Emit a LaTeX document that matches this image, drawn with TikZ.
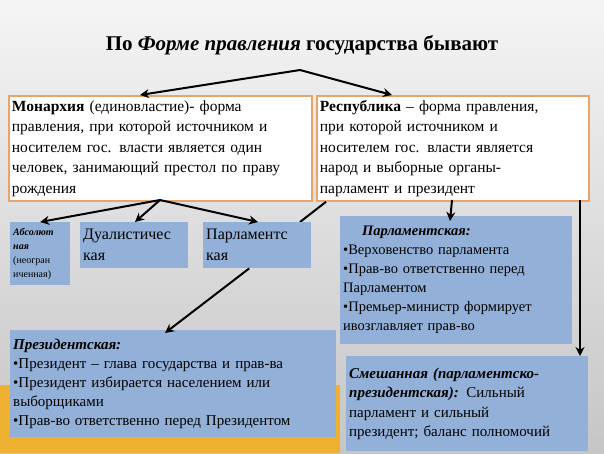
\documentclass[tikz,border=0pt]{standalone}
\usepackage{fontspec}
\setmainfont{Liberation Serif}
\usetikzlibrary{arrows.meta}
\begin{document}
\begin{tikzpicture}[x=1pt,y=-1pt,
  wbox/.style={draw=boc,line width=1.8pt,fill=white,anchor=north west,inner sep=3pt,align=left,font=\fontsize{15.5}{20.5}\selectfont},
  bbox/.style={fill=bxc,anchor=north west,inner sep=3pt,align=left,font=\fontsize{14.5}{19}\selectfont},
  arr/.style={line width=2pt,-{Stealth[length=9pt,width=9pt]}}]
\definecolor{bxc}{HTML}{93B1D8}
\definecolor{boc}{HTML}{E9A46A}
\definecolor{goldbar}{RGB}{239,177,50}
\useasboundingbox (0,0) rectangle (604,453);
\shade[top color=gray!8,bottom color=gray!45] (0,0) rectangle (604,453);
\fill[goldbar] (0,385) rectangle (340,453);
\node[font=\bfseries\fontsize{21}{24}\selectfont] (title) at (302,45) {По \textit{Форме правления} государства бывают};
\coordinate (fork) at (300,70);
\node[wbox,minimum width=303pt,minimum height=105pt,text width=297pt] (mon) at (8,95) {\textbf{Монархия} (единовластие)- форма\\правления, при которой источником и\\носителем гос. власти является один\\человек, занимающий престол по праву\\рождения};
\node[wbox,minimum width=272pt,minimum height=105pt,text width=266pt] (rep) at (316,95) {\textbf{Республика} – форма правления,\\при которой источником и\\носителем гос. власти является\\народ и выборные органы-\\парламент и президент};
\draw[line width=2pt] (rep.south west)++(10,0) coordinate (rs) -- (300,222);
\node[bbox,minimum width=60pt,minimum height=63pt,text width=54pt,font=\fontsize{10}{14}\selectfont] (abs) at (10,222) {\textbf{\textit{Абсолют\\ная}}\\(неогран\\иченная)};
\node[bbox,minimum width=108pt,minimum height=46pt,text width=102pt,font=\fontsize{16}{21}\selectfont] (dual) at (80,222) {Дуалистичес\\кая};
\node[bbox,minimum width=108pt,minimum height=46pt,text width=102pt,font=\fontsize{16}{21}\selectfont] (parl) at (203,222) {Парламентс\\кая};
\node[bbox,minimum width=232pt,minimum height=128pt,text width=226pt] (prep) at (340,216) {\hspace*{1.3em}\textbf{\textit{Парламентская:}}\\•Верховенство парламента\\•Прав-во ответственно перед\\Парламентом\\•Премьер-министр формирует\\ивозглавляет прав-во};
\node[bbox,minimum width=326pt,minimum height=107pt,text width=320pt,font=\fontsize{15}{19}\selectfont] (pres) at (10,330) {\textbf{\textit{Президентская:}}\\•Президент – глава государства и прав-ва\\•Президент избирается населением или\\выборщиками\\•Прав-во ответственно перед Президентом};
\node[bbox,minimum width=242pt,minimum height=95pt,text width=236pt,font=\fontsize{15}{19.5}\selectfont] (mix) at (346,356) {\textbf{\textit{Смешанная (парламентско-\\президентская):}} Сильный\\парламент и сильный\\президент; баланс полномочий};
\draw[arr] (fork) -- (140,95);
\draw[arr] (fork) -- (392,95);
\coordinate (mf) at (160,200);
\draw[arr] (mf) -- (abs.north);
\draw[arr] (mf) -- (135,222);
\draw[arr] (mf) -- (258,222);
\draw[arr] (parl.south) ++(-8,0) -- (165,333);
\draw[arr] (452,200) -- (450,221);
\draw[arr] (580,200) -- (580,356);
\end{tikzpicture}
\end{document}
